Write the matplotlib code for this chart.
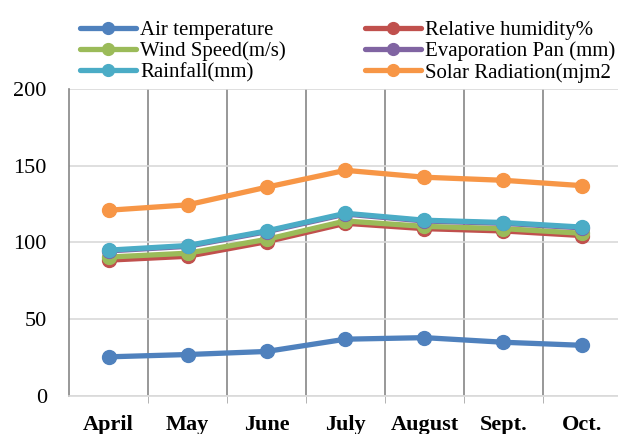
import numpy as np
import matplotlib.pyplot as plt

months = ['April', 'May', 'June', 'July', 'August', 'Sept.', 'Oct.']

air_temp = [25.5, 27, 29, 37, 38, 35, 33]
rel_humidity = [88.5, 91, 100.5, 112.5, 109, 107.5, 104.5]
wind_speed = [90.5, 93, 102, 114, 110.5, 109, 106]
evaporation = [94.5, 97.5, 107, 118.5, 114, 112.5, 109.5]
rainfall = [95, 98, 107.5, 119, 114.5, 113, 110]
solar_rad = [121, 124.5, 136, 147, 142.5, 140.5, 137]

series = [
    ('Air temperature', air_temp, '#4F81BD'),
    ('Relative humidity%', rel_humidity, '#C0504D'),
    ('Wind Speed(m/s)', wind_speed, '#9BBB59'),
    ('Evaporation Pan (mm)', evaporation, '#8064A2'),
    ('Rainfall(mm)', rainfall, '#4BACC6'),
    ('Solar Radiation(mjm2', solar_rad, '#F79646'),
]

plt.rcParams['font.family'] = ['Liberation Serif', 'DejaVu Serif']

fig = plt.figure(figsize=(6.18, 4.34), dpi=100)
ax = fig.add_axes([0.1117, 0.0876, 0.8883, 0.7074])

x = np.arange(len(months))
handles = {}
for name, vals, col in series:
    h, = ax.plot(x, vals, color=col, lw=3.8, marker='o', ms=10,
                 solid_capstyle='round', label=name, zorder=3)
    handles[name] = h

ax.set_xlim(-0.5, 6.45)
ax.set_ylim(0, 200)
ax.set_yticks([0, 50, 100, 150, 200])
ax.set_xticks(x)
ax.set_xticklabels(months, fontweight='bold', fontsize=16)
ax.tick_params(axis='y', labelsize=16, length=0, pad=16)
ax.tick_params(axis='x', which='major', length=0, pad=13.5)
ax.set_xticks(np.arange(0.5, 6.5, 1), minor=True)
ax.tick_params(axis='x', which='minor', length=5, color='#a6a6a6')
ax.grid(axis='y', color='#d9d9d9', lw=1.2, zorder=0)
ax.grid(axis='x', which='minor', color='#868686', lw=1.2, zorder=0)

for s in ['top', 'right']:
    ax.spines[s].set_visible(False)
ax.spines['left'].set_color('#868686')
ax.spines['left'].set_linewidth(1.2)
ax.spines['bottom'].set_color('#d9d9d9')
ax.spines['bottom'].set_linewidth(1.2)

order = ['Air temperature', 'Wind Speed(m/s)', 'Rainfall(mm)',
         'Relative humidity%', 'Evaporation Pan (mm)', 'Solar Radiation(mjm2']
fig.legend([handles[n] for n in order], order, ncol=2, loc='upper left',
           bbox_to_anchor=(0.129, 0.953), frameon=False, fontsize=15,
           handlelength=2.7, handletextpad=0.2, columnspacing=3.8,
           labelspacing=0.08, borderaxespad=0, borderpad=0, markerscale=0.85)

plt.savefig('out.png', dpi=100)
